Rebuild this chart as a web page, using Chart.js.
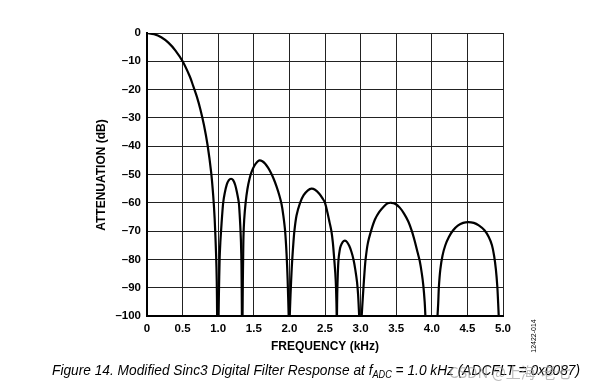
<!DOCTYPE html>
<html>
<head>
<meta charset="utf-8">
<script src="https://cdn.jsdelivr.net/npm/chart.js@4"></script>
<style>
  body { margin: 0; background: #fff; }
  #sinc { display: block; }
</style>
</head>
<body>
<canvas id="sinc" width="609" height="392"></canvas>
<script>
// frequency (kHz), attenuation (dB), one array per lobe
var mainLobe = [[0,0],[0.1,-0.4],[0.2,-1.5],[0.3,-3.4],[0.4,-6.2],[0.5,-10],[0.6,-15.3],[0.65,-18.8],[0.7,-22.5],[0.75,-27],[0.8,-32.5],[0.85,-39.5],[0.9,-49],[0.93,-57.5],[0.95,-65.5],[0.97,-78],[0.98,-88],[0.985,-100]];
var lobe2 = [[1.005,-100],[1.01,-92],[1.02,-80],[1.03,-74],[1.04,-70],[1.055,-64.5],[1.07,-60],[1.09,-56.8],[1.12,-53.6],[1.15,-52],[1.18,-51.5],[1.21,-52],[1.24,-53.8],[1.265,-56.5],[1.29,-60],[1.30,-63.5],[1.31,-68],[1.32,-74],[1.327,-82],[1.333,-100]];
var lobe3 = [[1.342,-100],[1.346,-88],[1.35,-80],[1.355,-72],[1.365,-66],[1.385,-60],[1.41,-55.2],[1.44,-51.5],[1.47,-49],[1.51,-46.8],[1.55,-45.5],[1.58,-45],[1.62,-45.3],[1.66,-46.2],[1.70,-47.6],[1.74,-49.4],[1.78,-51.6],[1.82,-54.3],[1.86,-57.5],[1.89,-60.5],[1.915,-64.5],[1.94,-70],[1.96,-78],[1.975,-87],[1.99,-100]];
var lobe4 = [[2.005,-100],[2.012,-95],[2.02,-90],[2.03,-84.5],[2.04,-80],[2.055,-74.5],[2.07,-70],[2.10,-64.5],[2.15,-60],[2.20,-57.3],[2.26,-55.6],[2.31,-55],[2.36,-55.4],[2.42,-56.8],[2.47,-58.6],[2.50,-60],[2.535,-63.5],[2.565,-67],[2.59,-70],[2.61,-74],[2.63,-80],[2.645,-85],[2.655,-90],[2.665,-100]];
var lobe5 = [[2.668,-100],[2.672,-92],[2.68,-85],[2.69,-80],[2.705,-77],[2.72,-75.3],[2.75,-73.8],[2.78,-73.4],[2.81,-73.9],[2.84,-75.2],[2.87,-77.2],[2.90,-80],[2.925,-83.5],[2.95,-88],[2.965,-92.5],[2.98,-100]];
var lobe6 = [[3.015,-100],[3.03,-94],[3.04,-90],[3.055,-84.5],[3.07,-80],[3.10,-74.5],[3.146,-70],[3.20,-66],[3.26,-63.3],[3.33,-61.2],[3.38,-60.2],[3.43,-60],[3.49,-60.4],[3.55,-61.7],[3.61,-63.8],[3.67,-66.6],[3.72,-70],[3.76,-73.5],[3.80,-77.5],[3.83,-80.5],[3.86,-85],[3.88,-89],[3.90,-95],[3.91,-100]];
var lobe7 = [[4.08,-100],[4.09,-95.5],[4.10,-89.5],[4.12,-83.5],[4.15,-78.7],[4.19,-75],[4.24,-72.1],[4.30,-69.7],[4.37,-68],[4.44,-67.1],[4.51,-66.8],[4.59,-67.1],[4.66,-68],[4.74,-69.7],[4.80,-72.1],[4.845,-75],[4.875,-78.7],[4.90,-83.5],[4.92,-89.5],[4.932,-95.5],[4.94,-100]];

var xTicks = [0, 0.5, 1.0, 1.5, 2.0, 2.5, 3.0, 3.5, 4.0, 4.5, 5.0];
var yTicks = [0, -10, -20, -30, -40, -50, -60, -70, -80, -90, -100];

var lobes = [mainLobe, lobe2, lobe3, lobe4, lobe5, lobe6, lobe7];
var datasets = lobes.map(function (l) {
  return {
    data: l.map(function (p) { return { x: p[0], y: p[1] }; }),
    borderColor: '#000',
    borderWidth: 2.2,
    pointRadius: 0,
    tension: 0.3,
    fill: false
  };
});

var tickFont = { family: 'Liberation Sans, Arial', size: 11.5, weight: 'bold' };

var extras = {
  id: 'extras',
  afterDraw: function (chart) {
    var c = chart.ctx;
    c.save();
    c.fillStyle = '#000';
    // y title
    c.font = 'bold 12px "Liberation Sans", Arial';
    c.translate(102, 175);
    c.rotate(-Math.PI / 2);
    c.textAlign = 'center';
    c.textBaseline = 'middle';
    c.fillText('ATTENUATION (dB)', 0, 0);
    c.restore();

    c.save();
    c.fillStyle = '#000';
    c.font = 'bold 12px "Liberation Sans", Arial';
    c.textAlign = 'center';
    c.textBaseline = 'middle';
    c.fillText('FREQUENCY (kHz)', 325, 347);

    // figure id, rotated
    c.translate(534, 336);
    c.rotate(-Math.PI / 2);
    c.font = '7px "Liberation Sans", Arial';
    c.fillText('12422-014', 0, 0);
    c.restore();

    // caption with subscript, squeezed to the width of the original
    var f1 = 'italic 15px "Liberation Sans", Arial';
    var f2 = 'italic 10px "Liberation Sans", Arial';
    var parts = [
      ['Figure 14. Modified Sinc3 Digital Filter Response at f', f1, 0],
      ['ADC', f2, 3],
      [' = 1.0 kHz (ADCFLT = 0x0087)', f1, 0]
    ];
    var total = 0;
    parts.forEach(function (p) { c.font = p[1]; total += c.measureText(p[0]).width; });
    c.save();
    c.fillStyle = '#000';
    c.textBaseline = 'alphabetic';
    c.textAlign = 'left';
    c.translate(52, 375);
    c.scale(528 / total, 1);
    var x = 0;
    parts.forEach(function (p) {
      c.font = p[1];
      c.fillText(p[0], x, p[2]);
      x += c.measureText(p[0]).width;
    });
    c.restore();

    // watermark
    c.save();
    c.fillStyle = 'rgba(160,160,160,0.7)';
    c.font = '15px "Noto Sans CJK SC", "Liberation Sans"';
    c.textBaseline = 'alphabetic';
    c.fillText('CSDN @上海-老七', 449, 378);
    c.restore();
  }
};

new Chart(document.getElementById('sinc').getContext('2d'), {
  type: 'line',
  data: { datasets: datasets },
  plugins: [extras],
  options: {
    responsive: false,
    animation: false,
    layout: { padding: { left: 0, top: 33, right: 106, bottom: 0 } },
    plugins: { legend: { display: false }, tooltip: { enabled: false } },
    scales: {
      x: {
        type: 'linear',
        min: 0,
        max: 5,
        afterBuildTicks: function (s) { s.ticks = xTicks.map(function (v) { return { value: v }; }); },
        afterFit: function (s) { s.height = 76; },
        ticks: {
          color: '#000',
          font: tickFont,
          padding: 6,
          maxRotation: 0,
          callback: function (v) { return v === 0 ? '0' : v.toFixed(1); }
        },
        grid: { color: '#222', lineWidth: 1, drawTicks: false },
        border: { color: '#000', width: 2 }
      },
      y: {
        min: -100,
        max: 0,
        afterBuildTicks: function (s) { s.ticks = yTicks.map(function (v) { return { value: v }; }); },
        afterFit: function (s) { s.width = 147; },
        ticks: {
          color: '#000',
          font: tickFont,
          padding: 6,
          callback: function (v) { return v === 0 ? '0' : '\u2013' + Math.abs(v); }
        },
        grid: { color: '#222', lineWidth: 1, drawTicks: false },
        border: { color: '#000', width: 2 }
      }
    }
  }
});
</script>
</body>
</html>
